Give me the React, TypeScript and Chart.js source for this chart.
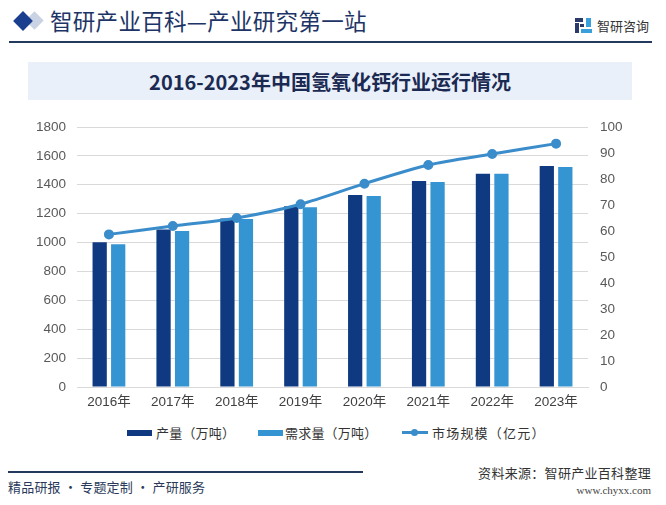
import React, { useEffect, useRef } from "react";
import { Chart, registerables } from "chart.js";

Chart.register(...registerables);

const categories = ["2016年", "2017年", "2018年", "2019年", "2020年", "2021年", "2022年", "2023年"];
const production = [1002, 1090, 1166, 1251, 1329, 1426, 1477, 1530];
const demand = [988, 1080, 1163, 1245, 1322, 1419, 1477, 1523];
const marketSize = [58.7, 61.9, 65.0, 70.3, 78.2, 85.4, 89.6, 93.6];
const leftTicks = [0, 200, 400, 600, 800, 1000, 1200, 1400, 1600, 1800];
const rightTicks = [0, 10, 20, 30, 40, 50, 60, 70, 80, 90, 100];

const seriesNames = ["产量（万吨）", "需求量（万吨）", "市场规模（亿元）"];
const headerTitle = "智研产业百科—产业研究第一站";
const chartTitle = "2016-2023年中国氢氧化钙行业运行情况";

const DARK = "#0f3a82";
const LIGHT = "#3594d2";
const LINE = "#3a8dca";
const TICK_FONT = "'Liberation Sans', Arial, 'Noto Sans CJK SC', sans-serif";
const CJK = "'Noto Sans CJK SC', 'Liberation Sans', sans-serif";

export default function App() {
  const ref = useRef<HTMLCanvasElement | null>(null);

  useEffect(() => {
    document.body.style.margin = "0";
    const canvas = ref.current!;
    const chart = new Chart(canvas, {
      type: "bar",
      data: {
        labels: categories,
        datasets: [
          {
            type: "line",
            label: seriesNames[2],
            data: marketSize,
            yAxisID: "y1",
            borderColor: LINE,
            backgroundColor: LINE,
            borderWidth: 3,
            pointRadius: 3.5,
            pointBackgroundColor: LINE,
            pointBorderColor: LINE,
            tension: 0.3,
            order: 0,
          } as any,
          {
            type: "bar",
            label: seriesNames[0],
            data: production,
            yAxisID: "y",
            backgroundColor: DARK,
            barPercentage: 0.77,
            categoryPercentage: 0.58,
            order: 1,
          },
          {
            type: "bar",
            label: seriesNames[1],
            data: demand,
            yAxisID: "y",
            backgroundColor: LIGHT,
            barPercentage: 0.77,
            categoryPercentage: 0.58,
            order: 2,
          },
        ],
      },
      options: {
        responsive: false,
        animation: false,
        devicePixelRatio: 1,
        layout: { padding: { top: 15, left: 0, right: 0, bottom: 0 } },
        plugins: { legend: { display: false }, tooltip: { enabled: false } },
        scales: {
          x: {
            grid: { display: false, drawTicks: false },
            border: { display: true, color: "#d9d9d9", width: 1 },
            ticks: {
              color: "#404040",
              padding: 7,
              font: { family: TICK_FONT, size: 13.5 },
            },
            afterFit: (s: any) => {
              s.height = 23;
              s.paddingLeft = 0;
              s.paddingRight = 0;
            },
          },
          y: {
            position: "left",
            min: 0,
            max: 1800,
            afterBuildTicks: (s: any) => {
              s.ticks = leftTicks.map((v) => ({ value: v }));
            },
            grid: { color: "#d9d9d9", drawTicks: false },
            border: { display: false },
            ticks: {
              color: "#595959",
              padding: 11,
              font: { family: TICK_FONT, size: 13.5 },
              callback: (v: any) => String(v),
            },
            afterFit: (s: any) => {
              s.width = 77;
              s.paddingTop = 0;
              s.paddingBottom = 0;
            },
          },
          y1: {
            position: "right",
            min: 0,
            max: 100,
            afterBuildTicks: (s: any) => {
              s.ticks = rightTicks.map((v) => ({ value: v }));
            },
            grid: { display: false, drawTicks: false },
            border: { display: false },
            ticks: {
              color: "#595959",
              padding: 12,
              font: { family: TICK_FONT, size: 13.5 },
              callback: (v: any) => String(v),
            },
            afterFit: (s: any) => {
              s.width = 78;
              s.paddingTop = 0;
              s.paddingBottom = 0;
            },
          },
        },
      },
    });
    return () => chart.destroy();
  }, []);

  const abs = (style: React.CSSProperties): React.CSSProperties => ({ position: "absolute", ...style });

  return (
    <div style={{ position: "relative", width: 666, height: 505, background: "#fff", overflow: "hidden", fontFamily: CJK }}>
      {/* header diamonds */}
      <div style={abs({ left: 28, top: 14, width: 13, height: 13, background: "#c9d3e4", transform: "rotate(45deg)" })} />
      <div style={abs({ left: 16, top: 14, width: 14, height: 14, background: "#1a3f8f", transform: "rotate(45deg)" })} />
      <div
        style={abs({
          left: 50,
          top: 5,
          fontSize: 22.5,
          lineHeight: "30px",
          color: "#1d3466",
          fontFamily: CJK,
          letterSpacing: 0.3,
          whiteSpace: "nowrap",
        })}
      >
        {headerTitle}
      </div>
      {/* logo */}
      <div style={abs({ left: 575, top: 18, width: 17, height: 15 })}>
        <div style={abs({ left: 0, top: 0, width: 8, height: 4, background: "#2a3a6a" })} />
        <div style={abs({ left: 0, top: 5, width: 4, height: 10, background: "#2a3a6a" })} />
        <div style={abs({ left: 5, top: 6, width: 4, height: 3, background: "#2a3a6a" })} />
        <div style={abs({ left: 11, top: 0, width: 5, height: 9, background: "#3aa0dc" })} />
        <div style={abs({ left: 6, top: 11, width: 11, height: 4, background: "#3aa0dc" })} />
      </div>
      <div style={abs({ left: 597, top: 16, fontSize: 13, lineHeight: "19px", color: "#333", whiteSpace: "nowrap" })}>智研咨询</div>
      <div style={abs({ left: 9, top: 41, width: 643, height: 2, background: "#23395d" })} />

      {/* title box */}
      <div
        style={abs({
          left: 28,
          top: 62,
          width: 604,
          height: 38,
          background: "#eaf0f9",
          display: "flex",
          alignItems: "center",
          justifyContent: "center",
          fontSize: 20,
          fontWeight: 700,
          color: "#1b2a52",
          whiteSpace: "nowrap",
        })}
      >
        {chartTitle}
      </div>

      <canvas ref={ref} width={666} height={298} style={abs({ left: 0, top: 112, width: 666, height: 298 })} />

      {/* legend */}
      <div style={abs({ left: 127, top: 430, width: 25, height: 6, background: DARK })} />
      <div style={abs({ left: 156, top: 424, fontSize: 13, lineHeight: "18px", color: "#333", letterSpacing: 0.2, whiteSpace: "nowrap" })}>
        {seriesNames[0]}
      </div>
      <div style={abs({ left: 258, top: 430, width: 25, height: 6, background: LIGHT })} />
      <div style={abs({ left: 285, top: 424, fontSize: 13, lineHeight: "18px", color: "#333", letterSpacing: 0.2, whiteSpace: "nowrap" })}>
        {seriesNames[1]}
      </div>
      <div style={abs({ left: 402, top: 431, width: 26, height: 3, background: LINE })} />
      <div style={abs({ left: 411, top: 429, width: 7, height: 7, borderRadius: "50%", background: LINE })} />
      <div style={abs({ left: 432, top: 424, fontSize: 13, lineHeight: "18px", color: "#333", letterSpacing: 1.2, whiteSpace: "nowrap" })}>
        {seriesNames[2]}
      </div>

      {/* footer */}
      <div style={abs({ left: 8, top: 471, width: 355, height: 1.5, background: "#23395d" })} />
      <div style={abs({ right: 15, top: 464, fontSize: 13, lineHeight: "18px", color: "#333", letterSpacing: 0.3, whiteSpace: "nowrap" })}>
        资料来源：智研产业百科整理
      </div>
      <div
        style={abs({
          right: 15,
          top: 483,
          fontSize: 11,
          lineHeight: "14px",
          color: "#444",
          fontFamily: "'Liberation Serif', 'DejaVu Serif', serif",
          whiteSpace: "nowrap",
        })}
      >
        www.chyxx.com
      </div>
      <div style={abs({ left: 8, top: 478, fontSize: 13, lineHeight: "18px", color: "#2b3a5a", letterSpacing: 0.2, whiteSpace: "nowrap" })}>
        精品研报 · 专题定制 · 产研服务
      </div>
    </div>
  );
}
